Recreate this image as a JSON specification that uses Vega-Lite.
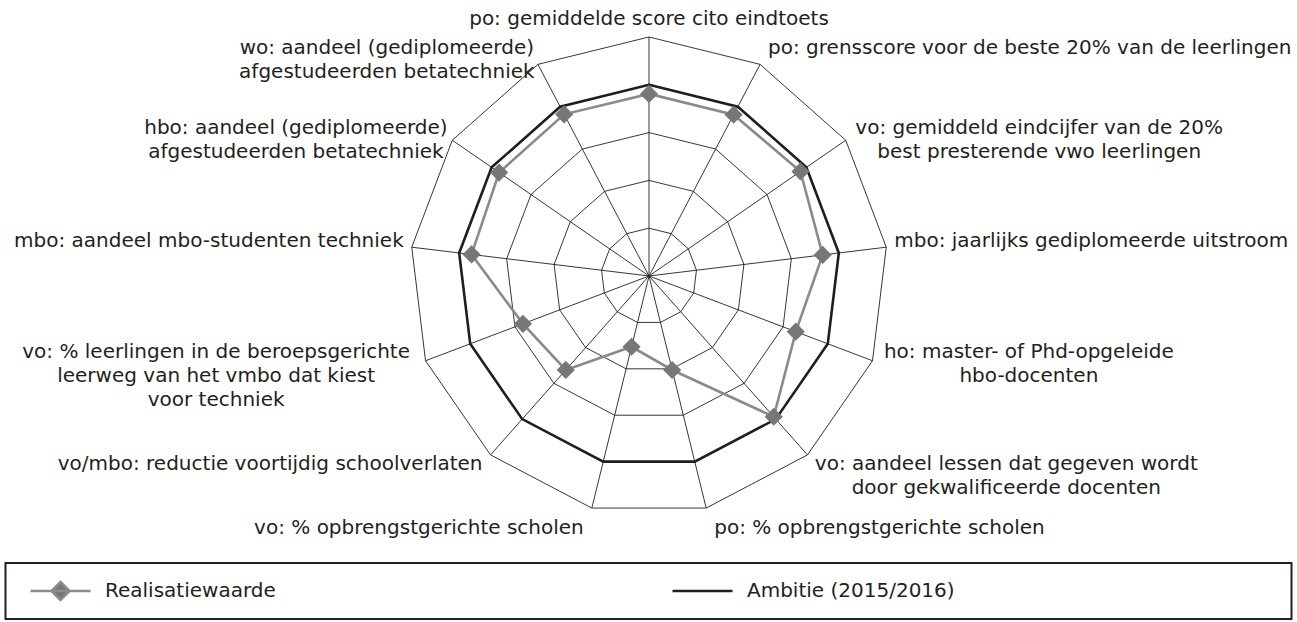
{
  "$schema": "https://vega.github.io/schema/vega-lite/v6.json",
  "width": 1297,
  "height": 622,
  "padding": 0,
  "autosize": {"type": "none"},
  "background": "white",
  "config": {"view": {"stroke": null}, "font": "DejaVu Sans"},
  "datasets": {
    "axes": [
      {"i": 0, "label": "po: gemiddelde score cito eindtoets"},
      {"i": 1, "label": "po: grensscore voor de beste 20% van de leerlingen"},
      {"i": 2, "label": "vo: gemiddeld eindcijfer van de 20%\nbest presterende vwo leerlingen"},
      {"i": 3, "label": "mbo: jaarlijks gediplomeerde uitstroom"},
      {"i": 4, "label": "ho: master- of Phd-opgeleide\nhbo-docenten"},
      {"i": 5, "label": "vo: aandeel lessen dat gegeven wordt\ndoor gekwalificeerde docenten"},
      {"i": 6, "label": "po: % opbrengstgerichte scholen"},
      {"i": 7, "label": "vo: % opbrengstgerichte scholen"},
      {"i": 8, "label": "vo/mbo: reductie voortijdig schoolverlaten"},
      {"i": 9, "label": "vo: % leerlingen in de beroepsgerichte\nleerweg van het vmbo dat kiest\nvoor techniek"},
      {"i": 10, "label": "mbo: aandeel mbo-studenten techniek"},
      {"i": 11, "label": "hbo: aandeel (gediplomeerde)\nafgestudeerden betatechniek"},
      {"i": 12, "label": "wo: aandeel (gediplomeerde)\nafgestudeerden betatechniek"}
    ],
    "scores": [
      {"i": 0, "series": "Realisatiewaarde", "value": 76.2},
      {"i": 1, "series": "Realisatiewaarde", "value": 76.2},
      {"i": 2, "series": "Realisatiewaarde", "value": 77.0},
      {"i": 3, "series": "Realisatiewaarde", "value": 73.2},
      {"i": 4, "series": "Realisatiewaarde", "value": 65.7},
      {"i": 5, "series": "Realisatiewaarde", "value": 78.7},
      {"i": 6, "series": "Realisatiewaarde", "value": 40.5},
      {"i": 7, "series": "Realisatiewaarde", "value": 30.5},
      {"i": 8, "series": "Realisatiewaarde", "value": 52.5},
      {"i": 9, "series": "Realisatiewaarde", "value": 56.4},
      {"i": 10, "series": "Realisatiewaarde", "value": 74.8},
      {"i": 11, "series": "Realisatiewaarde", "value": 76.2},
      {"i": 12, "series": "Realisatiewaarde", "value": 76.4},
      {"i": 0, "series": "Ambitie (2015/2016)", "value": 80},
      {"i": 1, "series": "Ambitie (2015/2016)", "value": 80},
      {"i": 2, "series": "Ambitie (2015/2016)", "value": 80},
      {"i": 3, "series": "Ambitie (2015/2016)", "value": 80},
      {"i": 4, "series": "Ambitie (2015/2016)", "value": 80},
      {"i": 5, "series": "Ambitie (2015/2016)", "value": 80},
      {"i": 6, "series": "Ambitie (2015/2016)", "value": 80},
      {"i": 7, "series": "Ambitie (2015/2016)", "value": 80},
      {"i": 8, "series": "Ambitie (2015/2016)", "value": 80},
      {"i": 9, "series": "Ambitie (2015/2016)", "value": 80},
      {"i": 10, "series": "Ambitie (2015/2016)", "value": 80},
      {"i": 11, "series": "Ambitie (2015/2016)", "value": 80},
      {"i": 12, "series": "Ambitie (2015/2016)", "value": 80}
    ],
    "rings": [
      {"ring": 20, "i": [0, 1, 2, 3, 4, 5, 6, 7, 8, 9, 10, 11, 12]},
      {"ring": 40, "i": [0, 1, 2, 3, 4, 5, 6, 7, 8, 9, 10, 11, 12]},
      {"ring": 60, "i": [0, 1, 2, 3, 4, 5, 6, 7, 8, 9, 10, 11, 12]},
      {"ring": 80, "i": [0, 1, 2, 3, 4, 5, 6, 7, 8, 9, 10, 11, 12]},
      {"ring": 100, "i": [0, 1, 2, 3, 4, 5, 6, 7, 8, 9, 10, 11, 12]}
    ],
    "spokes": [
      {"r": 0, "i": [0, 1, 2, 3, 4, 5, 6, 7, 8, 9, 10, 11, 12]},
      {"r": 100, "i": [0, 1, 2, 3, 4, 5, 6, 7, 8, 9, 10, 11, 12]}
    ]
  },
  "layer": [
    {
      "data": {"name": "rings"},
      "transform": [
        {"flatten": ["i"]},
        {"calculate": "datum.i * 2 * PI / 13", "as": "theta"},
        {"calculate": "datum.ring * sin(datum.theta)", "as": "gx"},
        {"calculate": "datum.ring * cos(datum.theta)", "as": "gy"}
      ],
      "mark": {"type": "line", "interpolate": "linear-closed", "color": "#231f20", "strokeWidth": 0.9},
      "encoding": {
        "x": {"field": "gx", "type": "quantitative", "axis": null, "scale": {"domain": [-271.55, 271.13], "nice": false, "zero": false}},
        "y": {"field": "gy", "type": "quantitative", "axis": null, "scale": {"domain": [-144.77, 115.48], "nice": false, "zero": false}},
        "detail": {"field": "ring", "type": "nominal"},
        "order": {"field": "i", "type": "quantitative"}
      }
    },
    {
      "data": {"name": "spokes"},
      "transform": [
        {"flatten": ["i"]},
        {"calculate": "datum.i * 2 * PI / 13", "as": "theta"},
        {"calculate": "datum.r * sin(datum.theta)", "as": "sx"},
        {"calculate": "datum.r * cos(datum.theta)", "as": "sy"}
      ],
      "mark": {"type": "line", "color": "#231f20", "strokeWidth": 0.9},
      "encoding": {
        "x": {"field": "sx", "type": "quantitative", "axis": null, "scale": {"domain": [-271.55, 271.13], "nice": false, "zero": false}},
        "y": {"field": "sy", "type": "quantitative", "axis": null, "scale": {"domain": [-144.77, 115.48], "nice": false, "zero": false}},
        "detail": {"field": "i", "type": "nominal"},
        "order": {"field": "r", "type": "quantitative"}
      }
    },
    {
      "data": {"name": "scores"},
      "transform": [
        {"calculate": "datum.i * 2 * PI / 13", "as": "theta"},
        {"calculate": "datum.value * sin(datum.theta)", "as": "px"},
        {"calculate": "datum.value * cos(datum.theta)", "as": "py"}
      ],
      "mark": {"type": "line", "interpolate": "linear-closed", "strokeWidth": 2.6},
      "encoding": {
        "x": {"field": "px", "type": "quantitative", "axis": null, "scale": {"domain": [-271.55, 271.13], "nice": false, "zero": false}},
        "y": {"field": "py", "type": "quantitative", "axis": null, "scale": {"domain": [-144.77, 115.48], "nice": false, "zero": false}},
        "order": {"field": "i", "type": "quantitative"},
        "stroke": {
          "field": "series",
          "type": "nominal",
          "scale": {"domain": ["Realisatiewaarde", "Ambitie (2015/2016)"], "range": ["#8a8a8a", "#1e1e1e"]},
          "legend": {
            "title": null,
            "orient": "none",
            "legendX": 5.5,
            "legendY": 563,
            "direction": "horizontal",
            "columns": 2,
            "columnPadding": 0,
            "padding": 12.5,
            "clipHeight": 31,
            "strokeColor": "#231f20",
            "symbolSize": 3600,
            "symbolStrokeWidth": 2.6,
            "symbolOffset": 11,
            "labelOffset": 13,
            "labelFont": "DejaVu Sans",
            "labelFontSize": 20,
            "labelColor": "#231f20",
            "labelLimit": 500,
            "encode": {
              "legend": {"update": {"strokeWidth": {"value": 2}}},
              "entries": {"update": {"width": {"signal": "datum.index === 0 ? 641.75 : 619"}}},
              "symbols": {"update": {
                "shape": {"signal": "datum.value === 'Realisatiewaarde' ? 'M-1,0H1M0,-0.3L0.3,0L0,0.3L-0.3,0Z' : 'M-1,0H1'"},
                "fill": {"signal": "datum.value === 'Realisatiewaarde' ? '#77777a' : 'transparent'"}
              }}
            }
          }
        }
      }
    },
    {
      "data": {"name": "scores"},
      "transform": [
        {"filter": "datum.series === 'Realisatiewaarde'"},
        {"calculate": "datum.i * 2 * PI / 13", "as": "theta"},
        {"calculate": "datum.value * sin(datum.theta)", "as": "px"},
        {"calculate": "datum.value * cos(datum.theta)", "as": "py"}
      ],
      "mark": {"type": "point", "shape": "diamond", "filled": true, "size": 330, "color": "#77777a", "opacity": 1},
      "encoding": {
        "x": {"field": "px", "type": "quantitative", "axis": null, "scale": {"domain": [-271.55, 271.13], "nice": false, "zero": false}},
        "y": {"field": "py", "type": "quantitative", "axis": null, "scale": {"domain": [-144.77, 115.48], "nice": false, "zero": false}}
      }
    },
    {
      "data": {"name": "axes"},
      "transform": [
        {"calculate": "datum.i * 2 * PI / 13", "as": "theta"},
        {"calculate": "100 * sin(datum.theta)", "as": "lx"},
        {"calculate": "100 * cos(datum.theta)", "as": "ly"},
        {"calculate": "split(datum.label, '\\n')", "as": "lines"},
        {"calculate": "length(datum.lines)", "as": "n"},
        {"calculate": "max(length(datum.lines[0]), datum.n > 1 ? length(datum.lines[1]) : 0, datum.n > 2 ? length(datum.lines[2]) : 0)", "as": "maxlen"},
        {"calculate": "sin(datum.theta)", "as": "ux"},
        {"calculate": "-cos(datum.theta)", "as": "uy"},
        {"calculate": "abs(datum.ux) < 0.1 ? 'center' : (datum.n > 1 ? 'center' : (datum.ux > 0 ? 'left' : 'right'))", "as": "al"},
        {"calculate": "abs(datum.ux) < 0.1 ? 0 : (datum.ux > 0 ? 1 : -1) * (8 + (datum.n > 1 ? datum.maxlen * 10.6 / 2 : 0))", "as": "ldx"},
        {"calculate": "datum.uy < 0.2 ? -5 + 13 * datum.uy : 47 * datum.uy - 25.7", "as": "ldy"}
      ],
      "mark": {
        "type": "text",
        "font": "DejaVu Sans",
        "fontSize": 20,
        "color": "#231f20",
        "lineHeight": 24,
        "lineBreak": "\n",
        "baseline": "middle",
        "align": {"expr": "datum.al"},
        "dx": {"expr": "datum.ldx"},
        "dy": {"expr": "datum.ldy"}
      },
      "encoding": {
        "x": {"field": "lx", "type": "quantitative", "axis": null, "scale": {"domain": [-271.55, 271.13], "nice": false, "zero": false}},
        "y": {"field": "ly", "type": "quantitative", "axis": null, "scale": {"domain": [-144.77, 115.48], "nice": false, "zero": false}},
        "text": {"field": "label", "type": "nominal"}
      }
    }
  ]
}
